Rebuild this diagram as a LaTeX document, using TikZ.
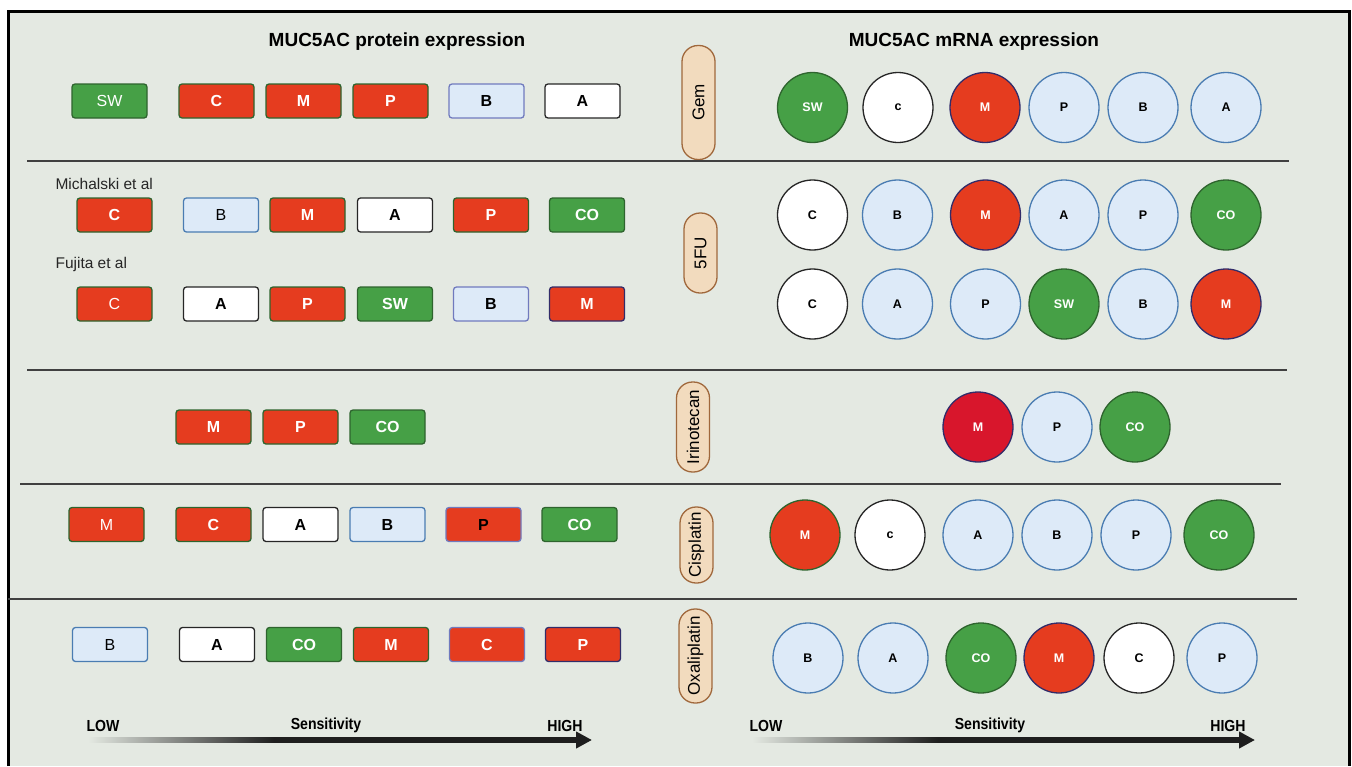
\documentclass[tikz,border=0pt]{standalone}
\usepackage{fontspec}
\setmainfont{Liberation Sans}
\usetikzlibrary{arrows.meta,calc}

\definecolor{panel}{RGB}{228,233,226}
\definecolor{mred}{RGB}{229,60,31}
\definecolor{mcrimson}{RGB}{216,22,44}
\definecolor{mgreen}{RGB}{70,160,70}
\definecolor{mgreenline}{RGB}{46,100,46}
\definecolor{mblue}{RGB}{221,234,248}
\definecolor{mblueline}{RGB}{74,124,178}
\definecolor{mviolet}{RGB}{112,122,190}
\definecolor{mnavy}{RGB}{50,44,105}
\definecolor{pillfill}{RGB}{242,219,190}
\definecolor{pillline}{RGB}{160,104,60}
\definecolor{arrowdark}{RGB}{30,30,30}

\pgfdeclarehorizontalshading{fadebar}{100bp}{color(0bp)=(panel); color(25bp)=(panel);
  color(44bp)=(arrowdark); color(100bp)=(arrowdark)}

\tikzset{
  tag/.style={draw, rounded corners=3pt, minimum width=75pt, minimum height=34pt,
    inner sep=0pt, line width=1.3pt, font=\fontsize{16}{16}\selectfont\bfseries},
  regular/.style={font=\fontsize{16}{16}\selectfont},
  rd/.style={fill=mred, draw=mgreenline, text=white},
  gr/.style={fill=mgreen, draw=mgreenline, text=white},
  bl/.style={fill=mblue, draw=mblueline, text=black},
  wt/.style={fill=white, draw=black!85, text=black},
  ball/.style={circle, draw, minimum size=70pt, inner sep=0pt, line width=1.3pt,
    font=\fontsize{12.5}{12.5}\selectfont\bfseries},
  drug/.style={draw=pillline, fill=pillfill, rounded corners=16pt, minimum height=33pt,
    inner sep=0pt, line width=1.3pt, rotate=90, font=\fontsize{17}{17}\selectfont},
  rule/.style={draw=black!75, line width=1.5pt},
  head/.style={font=\fontsize{19}{19}\selectfont\bfseries},
  study/.style={anchor=west, font=\fontsize{15.5}{15.5}\selectfont, text=black!85},
  sens/.style={xscale=0.88, font=\fontsize{16}{16}\selectfont\bfseries},
  bar/.style={shading=fadebar, shading angle=0},
  tip/.style={arrowdark, line width=5pt, -{Triangle[length=16pt, width=16pt]}}
}

\begin{document}
\begin{tikzpicture}[x=1pt, y=-1pt]

\useasboundingbox (0,0) rectangle (1352,766);

% panel and frame
\fill[panel] (8,11) rectangle (1349,766);
\draw[black, line width=3pt] (8,766) -- (8,11) -- (1349,11) -- (1349,766);

% headers
\node[head] (protT) at (397,42) {MUC5AC protein expression};
\node[head] (mrnaT) at (974,42) {MUC5AC mRNA expression};

% Gem
\node[tag, gr, regular] (gemP1) at (109.5,101) {SW};
\node[tag, rd] (gemP2) at (216.5,101) {C};
\node[tag, rd] (gemP3) at (303.5,101) {M};
\node[tag, rd] (gemP4) at (390.5,101) {P};
\node[tag, bl, draw=mviolet] (gemP5) at (486.5,101) {B};
\node[tag, wt] (gemP6) at (582.5,101) {A};

\node[drug, minimum width=114pt] (gem) at (698.5,102.5) {Gem};

\node[ball, gr] (gemR1) at (812.5,107.5) {SW};
\node[ball, wt] (gemR2) at (898,107.5) {c};
\node[ball, rd, draw=mnavy] (gemR3) at (985,107.5) {M};
\node[ball, bl] (gemR4) at (1064,107.5) {P};
\node[ball, bl] (gemR5) at (1143,107.5) {B};
\node[ball, bl] (gemR6) at (1226,107.5) {A};

\draw[rule] (27,161) -- (1289,161);

% 5FU
\node[study] (michalski) at (52,184) {Michalski et al};
\node[tag, rd] (fuaP1) at (114.5,215) {C};
\node[tag, bl, regular] (fuaP2) at (221,215) {B};
\node[tag, rd] (fuaP3) at (307.5,215) {M};
\node[tag, wt] (fuaP4) at (395,215) {A};
\node[tag, rd] (fuaP5) at (491,215) {P};
\node[tag, gr] (fuaP6) at (587,215) {CO};

\node[study] (fujita) at (52,264) {Fujita et al};
\node[tag, rd, regular] (fubP1) at (114.5,304) {C};
\node[tag, wt] (fubP2) at (221,304) {A};
\node[tag, rd] (fubP3) at (307.5,304) {P};
\node[tag, gr] (fubP4) at (395,304) {SW};
\node[tag, bl, draw=mviolet] (fubP5) at (491,304) {B};
\node[tag, rd, draw=mnavy] (fubP6) at (587,304) {M};

\node[drug, minimum width=80pt] (fu) at (700.5,253) {5FU};

\node[ball, wt] (fuaR1) at (812.5,215) {C};
\node[ball, bl] (fuaR2) at (897.5,215) {B};
\node[ball, rd, draw=mnavy] (fuaR3) at (985.5,215) {M};
\node[ball, bl] (fuaR4) at (1064,215) {A};
\node[ball, bl] (fuaR5) at (1143,215) {P};
\node[ball, gr] (fuaR6) at (1226,215) {CO};

\node[ball, wt] (fubR1) at (812.5,304) {C};
\node[ball, bl] (fubR2) at (897.5,304) {A};
\node[ball, bl] (fubR3) at (985.5,304) {P};
\node[ball, gr] (fubR4) at (1064,304) {SW};
\node[ball, bl] (fubR5) at (1143,304) {B};
\node[ball, rd, draw=mnavy] (fubR6) at (1226,304) {M};

\draw[rule] (27,370) -- (1287,370);

% Irinotecan
\node[tag, rd] (iriP1) at (213.5,427) {M};
\node[tag, rd] (iriP2) at (300.5,427) {P};
\node[tag, gr] (iriP3) at (387.5,427) {CO};

\node[drug, minimum width=90pt] (iri) at (693,427) {Irinotecan};

\node[ball, fill=mcrimson, draw=mnavy, text=white] (iriR1) at (978,427) {M};
\node[ball, bl] (iriR2) at (1057,427) {P};
\node[ball, gr] (iriR3) at (1135,427) {CO};

\draw[rule] (20,484) -- (1281,484);

% Cisplatin
\node[tag, rd, regular] (cisP1) at (106.5,524.5) {M};
\node[tag, rd] (cisP2) at (213.5,524.5) {C};
\node[tag, wt] (cisP3) at (300.5,524.5) {A};
\node[tag, bl] (cisP4) at (387.5,524.5) {B};
\node[tag, rd, draw=mviolet, text=black] (cisP5) at (483.5,524.5) {P};
\node[tag, gr] (cisP6) at (579.5,524.5) {CO};

\node[drug, minimum width=76pt] (cis) at (696.5,545) {Cisplatin};

\node[ball, rd] (cisR1) at (805,535) {M};
\node[ball, wt] (cisR2) at (890,535) {c};
\node[ball, bl] (cisR3) at (978,535) {A};
\node[ball, bl] (cisR4) at (1057,535) {B};
\node[ball, bl] (cisR5) at (1136,535) {P};
\node[ball, gr] (cisR6) at (1219,535) {CO};

\draw[rule] (8,599) -- (1297,599);

% Oxaliplatin
\node[tag, bl, regular] (oxaP1) at (110,644.5) {B};
\node[tag, wt] (oxaP2) at (217,644.5) {A};
\node[tag, gr] (oxaP3) at (304,644.5) {CO};
\node[tag, rd] (oxaP4) at (391,644.5) {M};
\node[tag, rd, draw=mviolet] (oxaP5) at (487,644.5) {C};
\node[tag, rd, draw=mnavy] (oxaP6) at (583,644.5) {P};

\node[drug, minimum width=94pt] (oxa) at (695.5,656) {Oxaliplatin};

\node[ball, bl] (oxaR1) at (808,658) {B};
\node[ball, bl] (oxaR2) at (893,658) {A};
\node[ball, gr] (oxaR3) at (981,658) {CO};
\node[ball, rd, draw=mnavy] (oxaR4) at (1059,658) {M};
\node[ball, wt] (oxaR5) at (1139,658) {C};
\node[ball, bl] (oxaR6) at (1222,658) {P};

% sensitivity scales
\node[sens] (lowL) at (103,725.5) {LOW};
\node[sens] (sensL) at (326,725.5) {Sensitivity};
\node[sens] (highL) at (565,725.5) {HIGH};
\coordinate (startL) at (88,740);
\coordinate (tipL) at (592,740);
\shade[bar] ($(startL)+(0,-2.5)$) rectangle ($(tipL)+(-14,2.5)$);
\draw[tip] ($(tipL)+(-24,0)$) -- (tipL);

\node[sens] (lowR) at (766,725.5) {LOW};
\node[sens] (sensR) at (990,725.5) {Sensitivity};
\node[sens] (highR) at (1228,725.5) {HIGH};
\coordinate (startR) at (752,740);
\coordinate (tipR) at (1255,740);
\shade[bar] ($(startR)+(0,-2.5)$) rectangle ($(tipR)+(-14,2.5)$);
\draw[tip] ($(tipR)+(-24,0)$) -- (tipR);

\end{tikzpicture}
\end{document}
